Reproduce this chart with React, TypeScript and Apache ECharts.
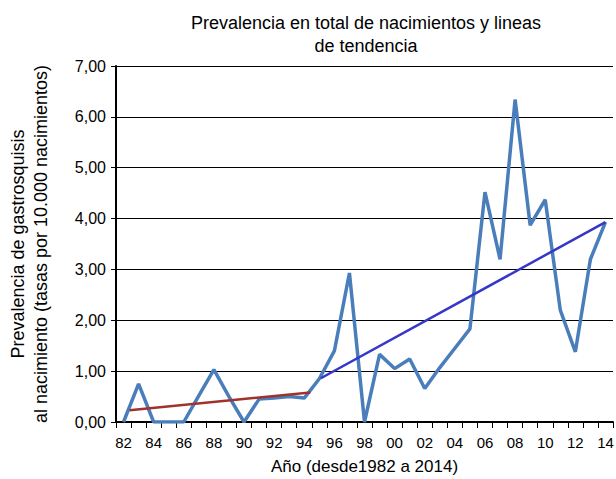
import React, { useEffect, useRef } from "react";
import * as echarts from "echarts";

const years = ["82","83","84","85","86","87","88","89","90","91","92","93","94","95","96","97","98","99","00","01","02","03","04","05","06","07","08","09","10","11","12","13","14"];
const prevalence = [0, 0.75, 0, 0, 0, 0.52, 1.03, 0.5, 0, 0.45, 0.47, 0.5, 0.47, 0.85, 1.4, 2.93, 0, 1.33, 1.05, 1.24, 0.66, 1.07, 1.45, 1.83, 4.52, 3.2, 6.34, 3.87, 4.37, 2.2, 1.38, 3.2, 3.93];
// trend lines (x in year index 82..114)
const trendEarly = [[82.4, 0.23], [94.4, 0.58]];
const trendLate = [[95.1, 0.86], [114, 3.93]];

const FONT = "Liberation Sans, Arial, Helvetica, sans-serif";

export default function App() {
  const ref = useRef<HTMLDivElement>(null);
  useEffect(() => {
    const chart = echarts.init(ref.current!, null, { renderer: "svg" });
    chart.setOption({
      animation: false,
      backgroundColor: "#fff",
      textStyle: { fontFamily: FONT },
      title: {
        text: "Prevalencia en total de nacimientos y lineas\nde tendencia",
        left: 361,
        textAlign: "center",
        top: 6,
        textStyle: { fontSize: 18, fontWeight: "normal", color: "#000", lineHeight: 23, fontFamily: FONT },
      },
      grid: { left: 116, right: 3, top: 66, bottom: 57, containLabel: false, outerBoundsMode: "none" },
      xAxis: [
        {
          type: "category",
          data: years,
          boundaryGap: true,
          name: "Año (desde1982 a 2014)",
          nameLocation: "middle",
          nameGap: 36,
          nameTextStyle: { fontSize: 17, color: "#000", fontFamily: FONT },
          axisLine: { lineStyle: { color: "#000", width: 2 } },
          axisTick: { show: true, interval: 0, length: 6, lineStyle: { color: "#000", width: 1 } },
          axisLabel: { interval: 1, fontSize: 15, color: "#000", margin: 13, fontFamily: FONT },
          splitLine: { show: false },
        },
        {
          type: "value",
          min: 81.5,
          max: 114.5,
          show: false,
        },
      ],
      yAxis: {
        type: "value",
        min: 0,
        max: 7,
        interval: 1,
        name: "Prevalencia de gastrosquisis\nal nacimiento (tasas por 10.000 nacimientos)",
        nameLocation: "middle",
        nameRotate: 90,
        nameGap: 64,
        nameTextStyle: { fontSize: 18, color: "#000", lineHeight: 23, fontFamily: FONT },
        axisLine: { show: true, lineStyle: { color: "#000", width: 2 } },
        axisTick: { show: true, length: 5, lineStyle: { color: "#000" } },
        axisLabel: {
          fontSize: 16,
          color: "#000",
          margin: 10,
          fontFamily: FONT,
          formatter: (v: number) => v.toFixed(2).replace(".", ","),
        },
        splitLine: { show: true, lineStyle: { color: "#000", width: 1 } },
      },
      series: [
        {
          type: "line",
          data: prevalence,
          xAxisIndex: 0,
          symbol: "none",
          lineStyle: { color: "#4a7ebb", width: 3.5 },
          z: 3,
        },
        {
          type: "line",
          data: trendEarly,
          xAxisIndex: 1,
          symbol: "none",
          lineStyle: { color: "#a0322e", width: 2.5 },
          z: 4,
        },
        {
          type: "line",
          data: trendLate,
          xAxisIndex: 1,
          symbol: "none",
          lineStyle: { color: "#3636c8", width: 2.5 },
          z: 4,
        },
      ],
    });
    return () => chart.dispose();
  }, []);
  return <div ref={ref} style={{ width: 616, height: 479, position: "absolute", left: 0, top: 0 }} />;
}
